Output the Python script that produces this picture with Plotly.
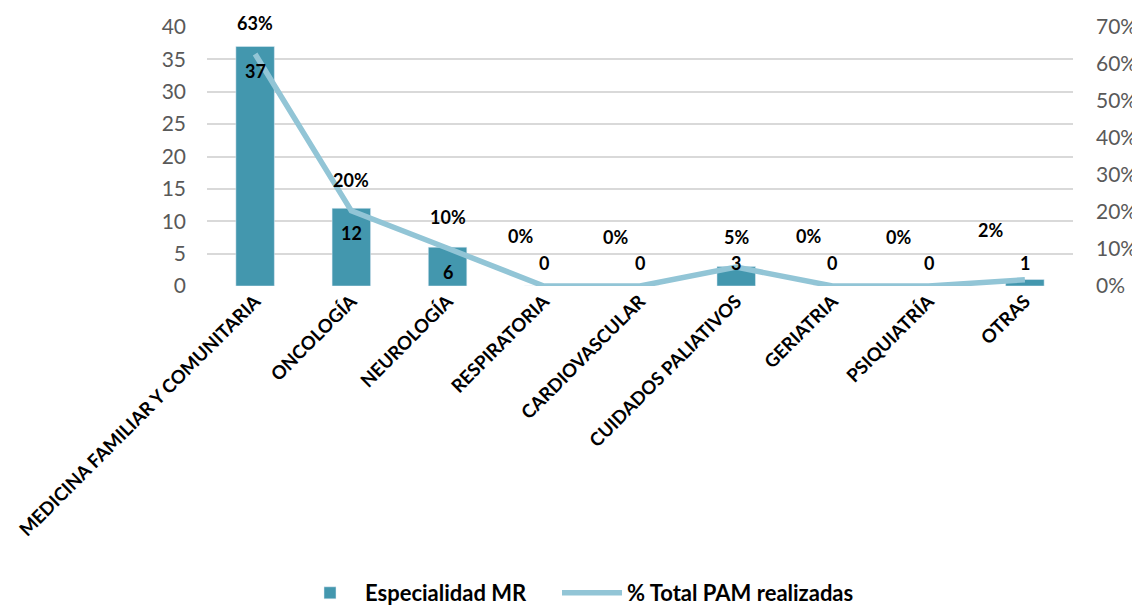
import plotly.graph_objects as go

categorias = ["MEDICINA FAMILIAR Y COMUNITARIA", "ONCOLOGÍA", "NEUROLOGÍA",
              "RESPIRATORIA", "CARDIOVASCULAR", "CUIDADOS PALIATIVOS",
              "GERIATRIA", "PSIQUIATRÍA", "OTRAS"]
especialidad_mr = [37, 12, 6, 0, 0, 3, 0, 0, 1]
pct_pam = [0.627, 0.203, 0.102, 0, 0, 0.051, 0, 0, 0.017]
pct_texto = ["63%", "20%", "10%", "0%", "0%", "5%", "0%", "0%", "2%"]

# desplazamientos de las etiquetas de % (colocadas a mano en el original)
pct_dx = [0, 0, 0, -23, -25, 0, -24, -30, -34]
pct_dy = [31, 31, 31, 50, 49, 49, 50, 49, 56]

BAR = "#4397AE"
LINE = "#92C5D6"
FONT = "Lato"
lbl_font = dict(family=FONT, size=18, color="black", weight="bold")
leg_font = dict(family=FONT, size=22, color="black", weight="bold")

fig = go.Figure()
fig.add_trace(go.Bar(x=categorias, y=especialidad_mr, name="Especialidad MR",
                     marker_color=BAR, width=0.4, legend="legend"))
fig.add_trace(go.Scatter(x=categorias, y=pct_pam, name="% Total PAM realizadas",
                         mode="lines", line=dict(color=LINE, width=5.5),
                         yaxis="y2", legend="legend2"))

# etiquetas de la barra: dentro del extremo si cabe, si no encima del eje
for c, v in zip(categorias, especialidad_mr):
    if v >= 5:
        fig.add_annotation(x=c, y=v, text=str(v), showarrow=False, yanchor="middle",
                           yshift=-25, font=lbl_font)
    else:
        fig.add_annotation(x=c, y=0, text=str(v), showarrow=False, yanchor="middle",
                           yshift=23, font=lbl_font)

for c, p, t, dx, dy in zip(categorias, pct_pam, pct_texto, pct_dx, pct_dy):
    fig.add_annotation(x=c, y=p if p >= 0.1 else 0, yref="y2", text=t,
                       showarrow=False, yanchor="middle", yshift=dy, xshift=dx,
                       font=lbl_font)

fig.update_layout(
    width=1140, height=606,
    margin=dict(l=199, r=75, t=19, b=328),
    plot_bgcolor="white", paper_bgcolor="white",
    font=dict(family=FONT, color="#595959"),
    showlegend=True,
    legend=dict(orientation="h", xref="container", x=287 / 1140, xanchor="left",
                yref="container", y=0.0, yanchor="bottom",
                font=leg_font, itemwidth=60),
    legend2=dict(orientation="h", xref="container", x=549 / 1140, xanchor="left",
                 yref="container", y=0.0, yanchor="bottom",
                 font=leg_font, itemwidth=60),
    xaxis=dict(tickangle=-45, showgrid=False, showline=False, ticks="",
               tickfont=dict(family=FONT, size=18.5, color="black", weight="bold"),
               automargin=False),
    yaxis=dict(range=[0, 40], dtick=5, gridcolor="#D9D9D9", gridwidth=1.5,
               zeroline=False, showline=False, ticks="",
               tickfont=dict(size=21, color="#595959"), ticklabelstandoff=20,
               automargin=False),
    yaxis2=dict(range=[0, 0.7], dtick=0.1, tickformat=".0%", overlaying="y",
                side="right", showgrid=False, zeroline=False, showline=False,
                ticks="", tickfont=dict(size=21, color="#595959"),
                ticklabelstandoff=22, automargin=False),
    bargap=0.6,
)

fig.write_html("out.html")
